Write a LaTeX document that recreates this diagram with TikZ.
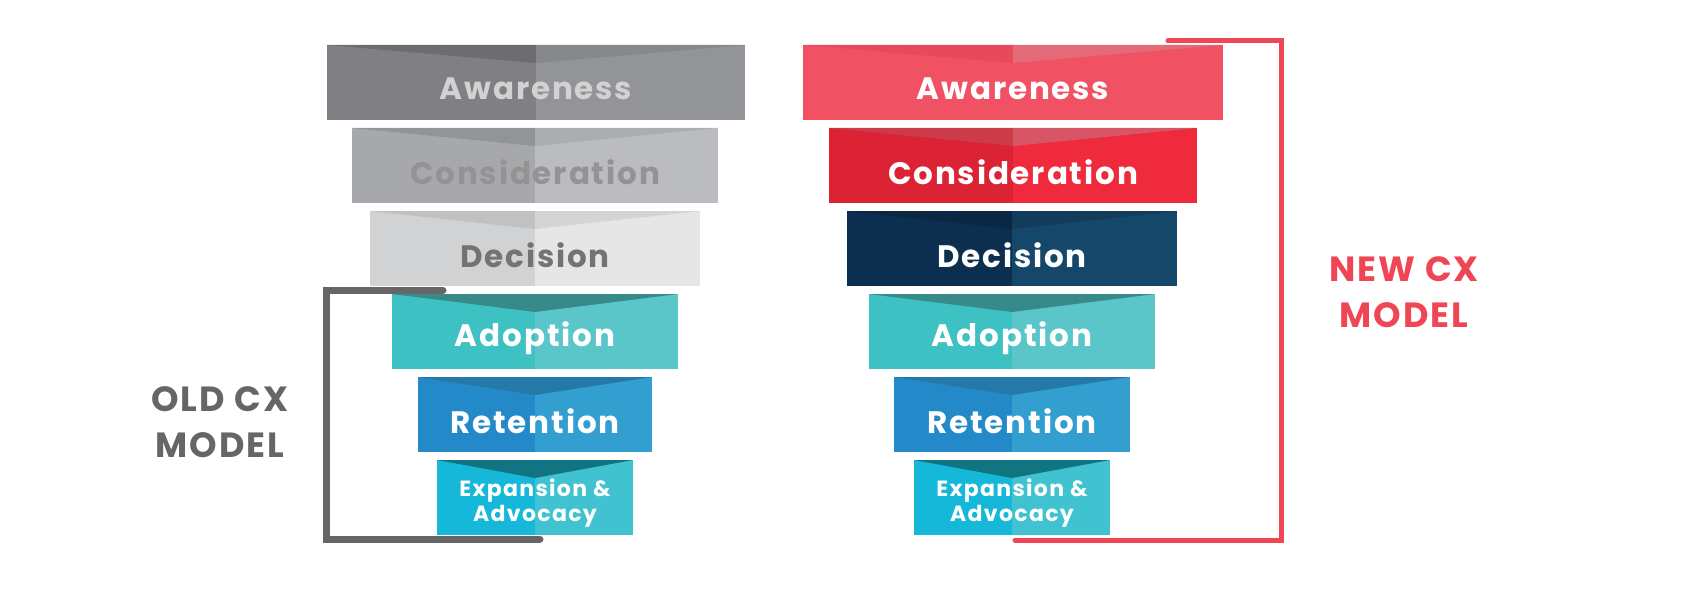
\documentclass[tikz,border=0pt]{standalone}
\usepackage{fontspec}
\setmainfont{Poppins}[LetterSpace=6]
\begin{document}
\begin{tikzpicture}[x=1pt,y=-1pt,
  lbl/.style={font=\fontsize{31}{34}\selectfont\bfseries, inner sep=0pt},
  slbl/.style={font=\fontsize{22}{25}\selectfont\bfseries, inner sep=0pt, align=center},
  side/.style={font=\fontsize{35}{46}\selectfont\bfseries, align=center, inner sep=0pt}]
\useasboundingbox (0,0) rectangle (1689,615);
\def\fbx#1#2#3#4#5#6#7#8{%
  \fill[#5] (#2-#3,#4) rectangle (#2,#4+75);
  \fill[#6] (#2,#4) rectangle (#2+#3,#4+75);
  \fill[#7] (#2-#3,#4) -- (#2,#4) -- (#2,#4+18) -- cycle;
  \fill[#8] (#2,#4) -- (#2+#3,#4) -- (#2,#4+18) -- cycle;
  \coordinate (#1) at (#2,#4+44);}
\definecolor{gA1}{HTML}{808084}\definecolor{gA2}{HTML}{939497}
\definecolor{gC1}{HTML}{A7A8AB}\definecolor{gC2}{HTML}{BBBCBF}
\definecolor{gD1}{HTML}{D1D2D4}\definecolor{gD2}{HTML}{E6E6E6}
\definecolor{tA1}{HTML}{3EC1C3}\definecolor{tA2}{HTML}{5BC6C9}\definecolor{tAc}{HTML}{37898A}
\definecolor{bR1}{HTML}{2389C9}\definecolor{bR2}{HTML}{339FD0}\definecolor{bRc}{HTML}{2479A6}
\definecolor{cE1}{HTML}{16B8DA}\definecolor{cE2}{HTML}{41C2D1}\definecolor{cEc}{HTML}{107580}
\definecolor{rA1}{HTML}{F05163}\definecolor{rAc1}{HTML}{E84A5C}\definecolor{rAc2}{HTML}{E36A76}
\definecolor{rC1}{HTML}{DC2235}\definecolor{rC2}{HTML}{EE2A3C}\definecolor{rCc1}{HTML}{CD3A4A}\definecolor{rCc2}{HTML}{D85566}
\definecolor{nD1}{HTML}{0C2E4F}\definecolor{nD2}{HTML}{15476A}
\definecolor{oldgray}{HTML}{666666}\definecolor{newred}{HTML}{EF4655}

\fbx{oA}{536}{209}{45}{gA1}{gA2}{gA1!85!black}{gA2!92!black}
\fbx{oC}{535}{183}{128}{gC1}{gC2}{gC1!88!black}{gC2!92!black}
\fbx{oD}{535}{165}{211}{gD1}{gD2}{gD1!92!black}{gD2!92!black}
\fbx{oAd}{535}{143}{294}{tA1}{tA2}{tAc}{tAc}
\fbx{oR}{535}{117}{377}{bR1}{bR2}{bRc}{bRc}
\fbx{oE}{535}{98}{460}{cE1}{cE2}{cEc}{cEc}
\node[lbl, text=gray!35] at (oA) {Awareness};
\node[lbl, text=gray!85] at (oC) {Consideration};
\node[lbl, text=gray!110] at (oD) {Decision};
\node[lbl, text=white] at (oAd) {Adoption};
\node[lbl, text=white] at (oR) {Retention};
\node[slbl, text=white] at ([yshift=1]oE) {Expansion \&\\Advocacy};

\fbx{nA}{1013}{210}{45}{rA1}{rA1}{rAc1}{rAc2}
\fbx{nC}{1013}{184}{128}{rC1}{rC2}{rCc1}{rCc2}
\fbx{nD}{1012}{165}{211}{nD1}{nD2}{nD1!85!black}{nD2!85!black}
\fbx{nAd}{1012}{143}{294}{tA1}{tA2}{tAc}{tAc}
\fbx{nR}{1012}{118}{377}{bR1}{bR2}{bRc}{bRc}
\fbx{nE}{1012}{98}{460}{cE1}{cE2}{cEc}{cEc}
\node[lbl, text=white] at (nA) {Awareness};
\node[lbl, text=white] at (nC) {Consideration};
\node[lbl, text=white] at (nD) {Decision};
\node[lbl, text=white] at (nAd) {Adoption};
\node[lbl, text=white] at (nR) {Retention};
\node[slbl, text=white] at ([yshift=1]nE) {Expansion \&\\Advocacy};

\coordinate (ob1) at (443,290); \coordinate (ob2) at (540,539);
\draw[oldgray, line width=7pt, line cap=round] (ob1) -- (326,290) -- (326,539) -- (ob2);
\coordinate (nb1) at (1168,41); \coordinate (nb2) at (1015,540);
\draw[newred, line width=5pt, line cap=round] (nb1) -- (1281,41) -- (1281,540) -- (nb2);

\node[side, text=oldgray] (old) at (220,422) {OLD CX\\MODEL};
\node[side, text=newred] (new) at (1404,292) {NEW CX\\MODEL};
\end{tikzpicture}
\end{document}
